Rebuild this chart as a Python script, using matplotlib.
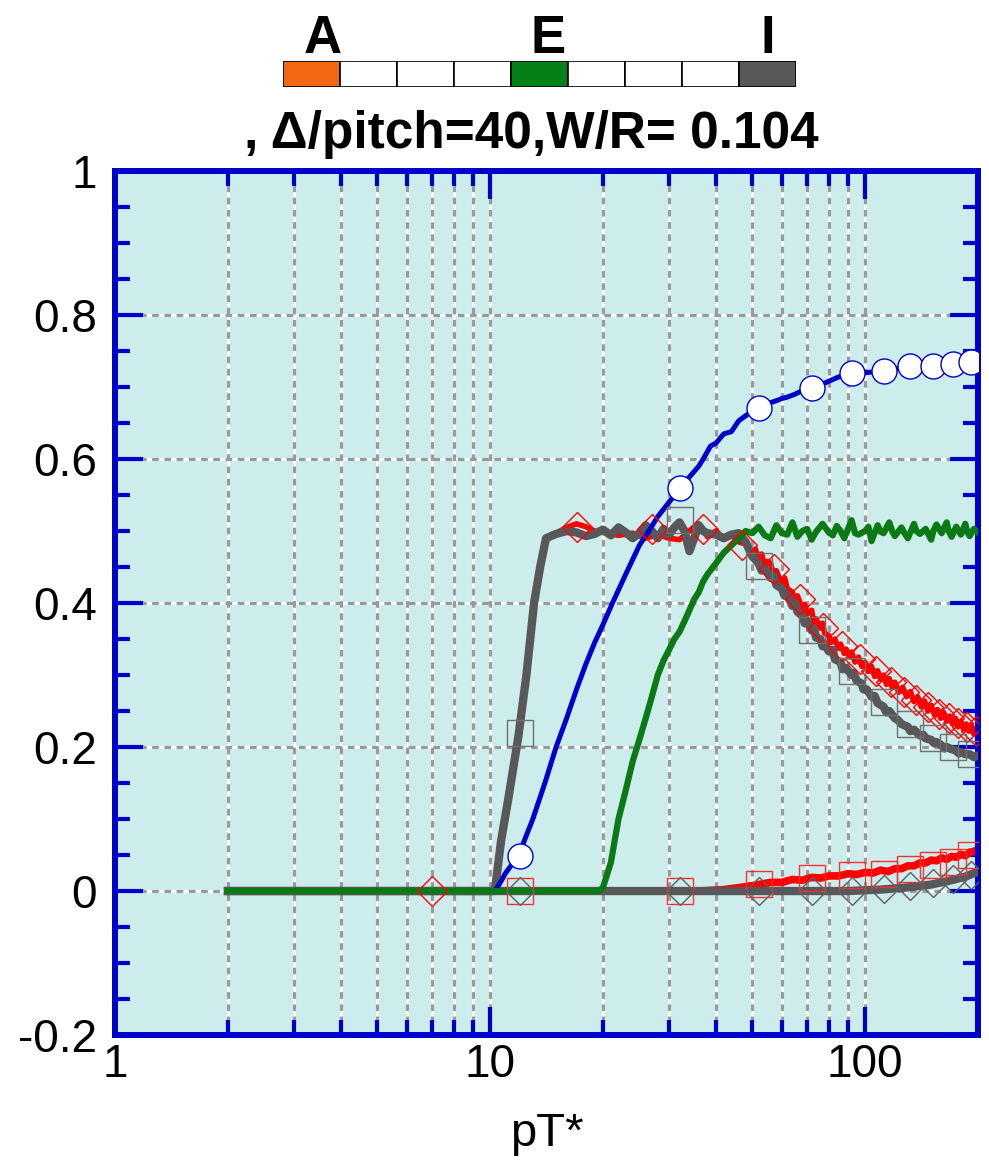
import matplotlib
matplotlib.use("Agg")
import matplotlib.pyplot as plt
from matplotlib.ticker import MultipleLocator, LogLocator, NullFormatter

plt.rcParams['font.family'] = ['Liberation Sans', 'DejaVu Sans']

# ---- data (x = pT*, y = value) ----
gray_top = [(2, 0), (10.3, 0), (10.7, 0.07), (11.2, 0.13), (11.9, 0.215), (12.5, 0.3),
            (13.1, 0.4), (13.6, 0.45), (14.1, 0.49), (15, 0.496), (16, 0.5), (17, 0.498),
            (18, 0.493), (19, 0.496), (20, 0.502), (21, 0.494), (22, 0.505), (23, 0.498),
            (24, 0.49), (25, 0.497), (26, 0.508), (27, 0.5), (28, 0.49), (29, 0.503),
            (30, 0.495), (31, 0.505), (32, 0.512), (33, 0.5), (34, 0.472), (35, 0.49),
            (36, 0.508), (37, 0.5), (38, 0.497), (40, 0.495), (42, 0.49), (44, 0.495),
            (46, 0.497), (48, 0.485), (50, 0.465), (52, 0.455), (53, 0.445), (54, 0.448),
            (56, 0.435), (57, 0.438), (58, 0.425), (60, 0.42), (61, 0.41), (62, 0.412),
            (64, 0.396), (65, 0.4), (66, 0.388), (68, 0.382), (69, 0.372), (70, 0.375),
            (72, 0.362), (73, 0.365), (74, 0.352), (76, 0.35), (77, 0.34), (78, 0.343),
            (80, 0.333), (82, 0.335), (83, 0.322), (86, 0.318), (87, 0.308), (89, 0.31),
            (92, 0.3), (93, 0.303), (95, 0.292), (98, 0.288), (99, 0.28), (101, 0.28),
            (104, 0.27), (106, 0.271), (108, 0.261), (112, 0.256), (114, 0.248), (116, 0.25),
            (120, 0.24), (122, 0.238), (125, 0.232), (130, 0.228), (132, 0.222), (135, 0.224),
            (140, 0.216), (143, 0.217), (145, 0.212), (150, 0.21), (153, 0.205), (155, 0.207),
            (160, 0.202), (163, 0.198), (165, 0.2), (170, 0.197), (175, 0.195), (178, 0.191),
            (180, 0.193), (185, 0.19), (190, 0.19), (195, 0.186), (200, 0.188)]

red_top = [(2, 0), (10.3, 0), (10.7, 0.07), (11.2, 0.13), (11.9, 0.215), (12.5, 0.3),
           (13.1, 0.4), (13.6, 0.45), (14.1, 0.49), (15, 0.497), (16, 0.505), (17, 0.51),
           (18, 0.506), (19, 0.5), (20, 0.498), (22, 0.494), (24, 0.497), (26, 0.49),
           (28, 0.495), (30, 0.49), (32, 0.488), (34, 0.5), (36, 0.51), (38, 0.492),
           (40, 0.5), (42, 0.49), (44, 0.495), (46, 0.485), (48, 0.482), (50, 0.47),
           (51, 0.475), (52, 0.46), (53, 0.468), (54, 0.45), (55, 0.458), (56, 0.455),
           (57, 0.438), (58, 0.445), (60, 0.425), (61, 0.435), (62, 0.42), (64, 0.415),
           (65, 0.4), (66, 0.41), (68, 0.392), (69, 0.398), (70, 0.385), (72, 0.39),
           (73, 0.372), (74, 0.378), (76, 0.365), (77, 0.372), (78, 0.358), (80, 0.355),
           (81, 0.345), (83, 0.35), (85, 0.337), (86, 0.343), (88, 0.33), (89, 0.336),
           (91, 0.325), (92, 0.332), (94, 0.318), (96, 0.325), (98, 0.312), (100, 0.318),
           (102, 0.305), (104, 0.312), (106, 0.298), (108, 0.306), (110, 0.294), (112, 0.3),
           (114, 0.287), (116, 0.295), (118, 0.283), (120, 0.29), (123, 0.276), (126, 0.283),
           (129, 0.27), (132, 0.277), (135, 0.263), (138, 0.27), (141, 0.256), (144, 0.264),
           (147, 0.25), (150, 0.258), (153, 0.245), (156, 0.252), (159, 0.24), (162, 0.248),
           (165, 0.236), (168, 0.243), (171, 0.232), (174, 0.24), (177, 0.228), (180, 0.236),
           (183, 0.225), (186, 0.232), (189, 0.222), (192, 0.23), (195, 0.218), (198, 0.226),
           (200, 0.222)]

blue = [(2, 0), (10.3, 0), (10.6, 0.01), (11, 0.025), (11.9, 0.049), (13, 0.1), (14, 0.15),
        (15, 0.2), (16, 0.24), (17, 0.28), (18, 0.315), (19, 0.345), (20, 0.37),
        (21.2, 0.4), (23, 0.44), (25, 0.48), (26.5, 0.5), (28, 0.52), (30, 0.54),
        (32.2, 0.56), (34, 0.575), (36, 0.59), (37, 0.6), (38.7, 0.618), (40, 0.622),
        (42, 0.635), (44, 0.638), (46, 0.653), (48, 0.66), (50, 0.667), (52, 0.671),
        (55, 0.677), (58, 0.681), (60, 0.684), (62, 0.686), (65, 0.69), (68, 0.695),
        (72.7, 0.699), (76, 0.703), (80, 0.708), (85, 0.714), (91, 0.719), (100, 0.72),
        (111, 0.722), (120, 0.725), (132, 0.729), (150, 0.729), (171, 0.732), (191, 0.735),
        (200, 0.736)]

green = [(2, 0), (19.5, 0), (20, 0.005), (21, 0.04), (22, 0.1), (23, 0.14), (24, 0.18),
         (25, 0.21), (26, 0.24), (27, 0.27), (28, 0.3), (29, 0.32), (30, 0.335), (31, 0.35),
         (32, 0.36), (33, 0.375), (34, 0.39), (35, 0.405), (36, 0.415), (37, 0.43),
         (38, 0.44), (40, 0.455), (42, 0.47), (44, 0.48), (46, 0.49), (48, 0.5),
         (50, 0.497), (52, 0.506), (54, 0.494), (56, 0.49), (58, 0.508), (60, 0.497),
         (62, 0.495), (64, 0.512), (66, 0.492), (68, 0.5), (70, 0.503), (72, 0.488),
         (74, 0.499), (77, 0.51), (80, 0.498), (82, 0.494), (84, 0.507), (86, 0.5),
         (88, 0.49), (92, 0.515), (94, 0.497), (96, 0.495), (100, 0.5), (102, 0.506),
         (104, 0.486), (108, 0.508), (110, 0.499), (112, 0.497), (116, 0.512), (118, 0.5),
         (120, 0.493), (125, 0.505), (127, 0.498), (130, 0.49), (135, 0.51), (137, 0.5),
         (140, 0.496), (145, 0.503), (150, 0.488), (152, 0.5), (155, 0.509), (160, 0.497),
         (165, 0.512), (167, 0.5), (170, 0.492), (175, 0.506), (180, 0.495), (185, 0.51),
         (187, 0.499), (190, 0.493), (195, 0.503), (200, 0.498)]

red_bot = [(2, 0), (36, 0), (42, 0.002), (48, 0.006), (52, 0.009), (56, 0.012), (60, 0.012),
           (64, 0.016), (68, 0.015), (72, 0.019), (76, 0.018), (80, 0.021), (85, 0.021),
           (90, 0.024), (95, 0.023), (100, 0.026), (105, 0.025), (110, 0.029), (115, 0.027),
           (120, 0.031), (125, 0.031), (130, 0.035), (135, 0.035), (140, 0.039), (145, 0.039),
           (150, 0.043), (155, 0.042), (160, 0.046), (165, 0.044), (170, 0.048), (175, 0.047),
           (180, 0.051), (185, 0.049), (190, 0.054), (195, 0.055), (200, 0.058)]

gray_bot = [(2, 0), (90, 0), (110, 0.002), (130, 0.005), (150, 0.009), (170, 0.015),
            (185, 0.02), (200, 0.027)]

# open markers sitting on the curves
circ_blue = [(12, 0.049), (32, 0.56), (52, 0.671), (72, 0.699), (92, 0.719), (112, 0.722),
             (132, 0.729), (152, 0.729), (172, 0.732), (192, 0.735)]
sq_gray = [(12, 0.22), (32, 0.515), (52, 0.452), (72, 0.362), (92, 0.305), (112, 0.262),
           (132, 0.232), (152, 0.212), (172, 0.2), (192, 0.19)]
dia_red = [(7, 0), (17, 0.505), (27, 0.503), (37, 0.503), (47, 0.48), (57, 0.447),
           (67, 0.405), (77, 0.366), (87, 0.34), (97, 0.322), (107, 0.306), (117, 0.29),
           (127, 0.277), (137, 0.265), (147, 0.255), (157, 0.246), (167, 0.24), (177, 0.234),
           (187, 0.228), (197, 0.222)]
sq_red = [(12, 0), (32, 0), (52, 0.01), (72, 0.018), (92, 0.022), (112, 0.024), (132, 0.03),
          (152, 0.036), (172, 0.04), (192, 0.05)]
dia_gray = [(12, 0), (32, 0), (52, 0), (72, 0), (92, 0), (112, 0.003), (132, 0.007),
            (152, 0.011), (172, 0.017), (192, 0.022)]

x_ticks = [1, 10, 100]
x_ticklabels = ['1', '10', '100']
y_ticks = [-0.2, 0, 0.2, 0.4, 0.6, 0.8, 1]
y_ticklabels = ['-0.2', '0', '0.2', '0.4', '0.6', '0.8', '1']
x_grid = [2, 3, 4, 5, 6, 7, 8, 9, 10, 20, 30, 40, 50, 60, 70, 80, 90, 100]
y_grid = [0, 0.2, 0.4, 0.6, 0.8]

# labels over the colour strip: (box position, letter)
bar_labels = [(0.2, 'A'), (4.15, 'E'), (8, 'I')]
bar_colors = ['#F26711', 'white', 'white', 'white', '#038017', 'white', 'white', 'white', '#58585A']

BLUE = '#0000CC'
GREEN = '#0B7A14'
RED = '#FF0000'
GRAY = '#58585A'


def xy(pairs):
    return [p[0] for p in pairs], [p[1] for p in pairs]


fig = plt.figure(figsize=(9.89, 11.69), dpi=100)
ax = fig.add_axes([0.1163, 0.1146, 0.8726, 0.7391])
ax.set_facecolor('#CDECEC')
ax.set_xscale('log')

# grid: white line with grey dashes over it
for xv in x_grid:
    ax.axvline(xv, color='white', lw=2.2, zorder=0.5)
    ax.axvline(xv, color='#9A9A9A', lw=2.2, ls=(0, (2.2, 1.8)), zorder=0.6)
for yv in y_grid:
    ax.axhline(yv, color='white', lw=2.2, zorder=0.5)
    ax.axhline(yv, color='#9A9A9A', lw=2.2, ls=(0, (2.2, 1.8)), zorder=0.6)

ax.plot(*xy(red_top), color=RED, lw=4, zorder=2)
ax.plot(*xy(gray_top), color=GRAY, lw=6, zorder=3)
ax.plot(*xy(red_bot), color=RED, lw=5.5, zorder=2)
ax.plot(*xy(gray_bot), color=GRAY, lw=6, zorder=3)
ax.plot(*xy(blue), color=BLUE, lw=3.6, zorder=4)
ax.plot(*xy(green), color=GREEN, lw=4.5, zorder=5)

ax.plot(*xy(dia_red), ls='none', marker='D', ms=15, mfc='none', mec=RED, mew=1.0, zorder=6)
ax.plot(*xy(sq_gray), ls='none', marker='s', ms=19, mfc='none', mec='#707070', mew=1.0, zorder=6)
ax.plot(*xy(sq_red), ls='none', marker='s', ms=19, mfc='none', mec='#FF3030', mew=1.0, zorder=6)
ax.plot(*xy(dia_gray), ls='none', marker='D', ms=14, mfc='none', mec='#606060', mew=1.0, zorder=6)
ax.plot(*xy(circ_blue), ls='none', marker='o', ms=18, mfc='white', mec=BLUE, mew=1.0, zorder=7)

ax.set_xlim(1, 200)
ax.set_ylim(-0.2, 1)
ax.set_xticks(x_ticks)
ax.set_xticklabels(x_ticklabels)
ax.xaxis.set_minor_locator(LogLocator(base=10, subs=range(2, 10)))
ax.xaxis.set_minor_formatter(NullFormatter())
ax.set_yticks(y_ticks)
ax.set_yticklabels(y_ticklabels)
ax.yaxis.set_minor_locator(MultipleLocator(0.05))

ax.tick_params(which='both', direction='in', top=True, right=True, color=BLUE, width=3,
               labelsize=33)
ax.tick_params(which='major', length=20)
ax.tick_params(which='minor', length=11)
ax.tick_params(axis='y', pad=13)
ax.tick_params(axis='x', pad=6)
for s in ax.spines.values():
    s.set_color(BLUE)
    s.set_linewidth(4.3)

ax.set_xlabel('pT*', fontsize=34, labelpad=18)

fig.text(531 / 989, 1 - 148 / 1169, ', \u0394/pitch=40,W/R= 0.104', ha='center', va='baseline',
         fontsize=37, fontweight='bold')

# colour strip on top
cax = fig.add_axes([283 / 989, 1 - 87 / 1169, 513 / 989, 26 / 1169])
cax.bar(range(len(bar_colors)), [1] * len(bar_colors), width=1, color=bar_colors,
        edgecolor='black', linewidth=1.2)
for pos, lab in bar_labels:
    cax.text(pos, 1.3, lab, ha='center', va='baseline', fontsize=38, fontweight='bold')
cax.set_xlim(-0.5, len(bar_colors) - 0.5)
cax.set_ylim(0, 1)
cax.axis('off')

fig.savefig('out.png', dpi=100)
